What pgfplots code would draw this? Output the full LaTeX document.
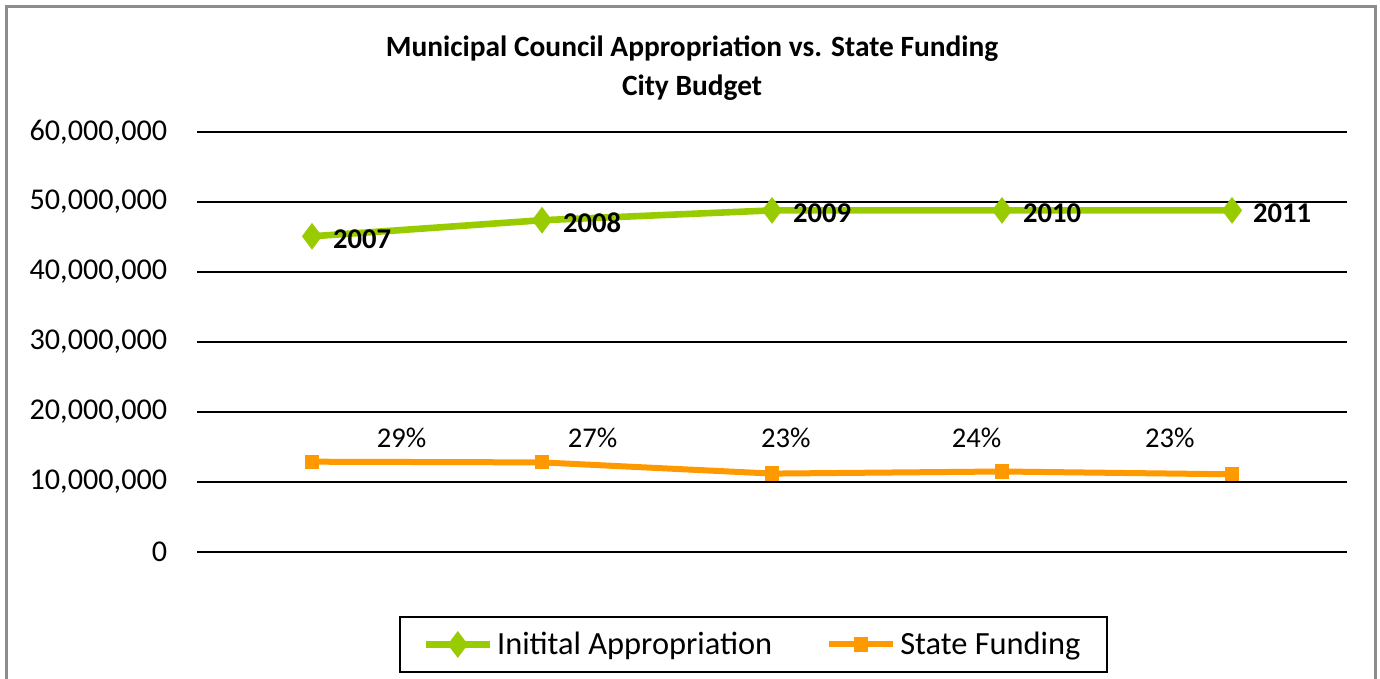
\documentclass[border=0pt]{standalone}
\usepackage{pgfplots}
\pgfplotsset{compat=1.18}
\usepackage{fontspec}
\setmainfont{Carlito}
\definecolor{cgreen}{HTML}{99CC00}
\definecolor{corange}{HTML}{FF9900}
\definecolor{frame}{HTML}{8C8C8C}
\newcommand{\fs}{\fontsize{14.3pt}{17pt}\selectfont}
\newcommand{\fst}{\fontsize{15.1pt}{17pt}\selectfont}
\newcommand{\fsl}{\fontsize{16.2pt}{19pt}\selectfont}
\begin{document}
\begin{tikzpicture}[font=\fs]
\useasboundingbox (0,0) rectangle (690pt,339.5pt);
\draw[frame, line width=1.5pt] (3pt,-5pt) -- (3pt,336pt) -- (687.5pt,336pt) -- (687.5pt,-5pt);
\node[align=center, font=\fontsize{14.7pt}{19.5pt}\selectfont\bfseries] at (346pt,305.5pt) {Municipal Council Appropriation vs. State Funding\\City Budget};
\begin{axis}[
  at={(98.5pt,63.5pt)}, anchor=south west,
  scale only axis, width=575pt, height=210pt,
  xmin=-0.5, xmax=4.5, ymin=0, ymax=60000000,
  xtick=\empty,
  ytick={0,10000000,20000000,30000000,40000000,50000000,60000000},
  scaled y ticks=false,
  /pgf/number format/fixed,
  /pgf/number format/1000 sep={,},
  /pgf/number format/assume math mode=true,
  yticklabel style={font=\fst, xshift=-11.4pt},
  ymajorgrids, grid style={black, line width=1.1pt},
  major tick length=0pt,
  axis line style={draw=none},
  clip=false,
  legend style={at={(0.4839,-0.2202)}, anchor=center, legend columns=2, draw=black, line width=1pt, font=\fsl,
    inner xsep=11.5pt, inner ysep=5.5pt,
    /tikz/every even column/.append style={column sep=25pt}},
  legend image code/.code={\draw[mark repeat=2,mark phase=2,#1] plot coordinates {(0pt,0pt) (16pt,0pt) (32pt,0pt)};},
]
\addplot[cgreen, line width=3.3pt, mark=diamond*, mark size=6.3pt, mark options={solid, fill=cgreen, line width=0.5pt},
  nodes near coords, point meta=explicit symbolic,
  nodes near coords style={anchor=west, xshift=7pt, yshift=-1.5pt, font=\fs\bfseries, text=black}]
  coordinates {(0,45100000)[2007] (1,47400000)[2008] (2,48800000)[2009] (3,48800000)[2010] (4,48800000)[2011]};
\addlegendentry{Initital Appropriation}
\addplot[corange, line width=3pt, mark=square*, mark size=3.3pt, mark options={solid, fill=corange, line width=0.5pt}]
  coordinates {(0,12900000) (1,12800000) (2,11200000) (3,11500000) (4,11100000)};
\addlegendentry{State Funding}
\addplot[draw=none, forget plot, nodes near coords, point meta=explicit symbolic,
  nodes near coords style={anchor=center, font=\fs, text=black}]
  coordinates {(0.39,16300000)[29\%] (1.22,16300000)[27\%] (2.06,16300000)[23\%] (2.89,16300000)[24\%] (3.73,16300000)[23\%]};
\end{axis}
\end{tikzpicture}
\end{document}
